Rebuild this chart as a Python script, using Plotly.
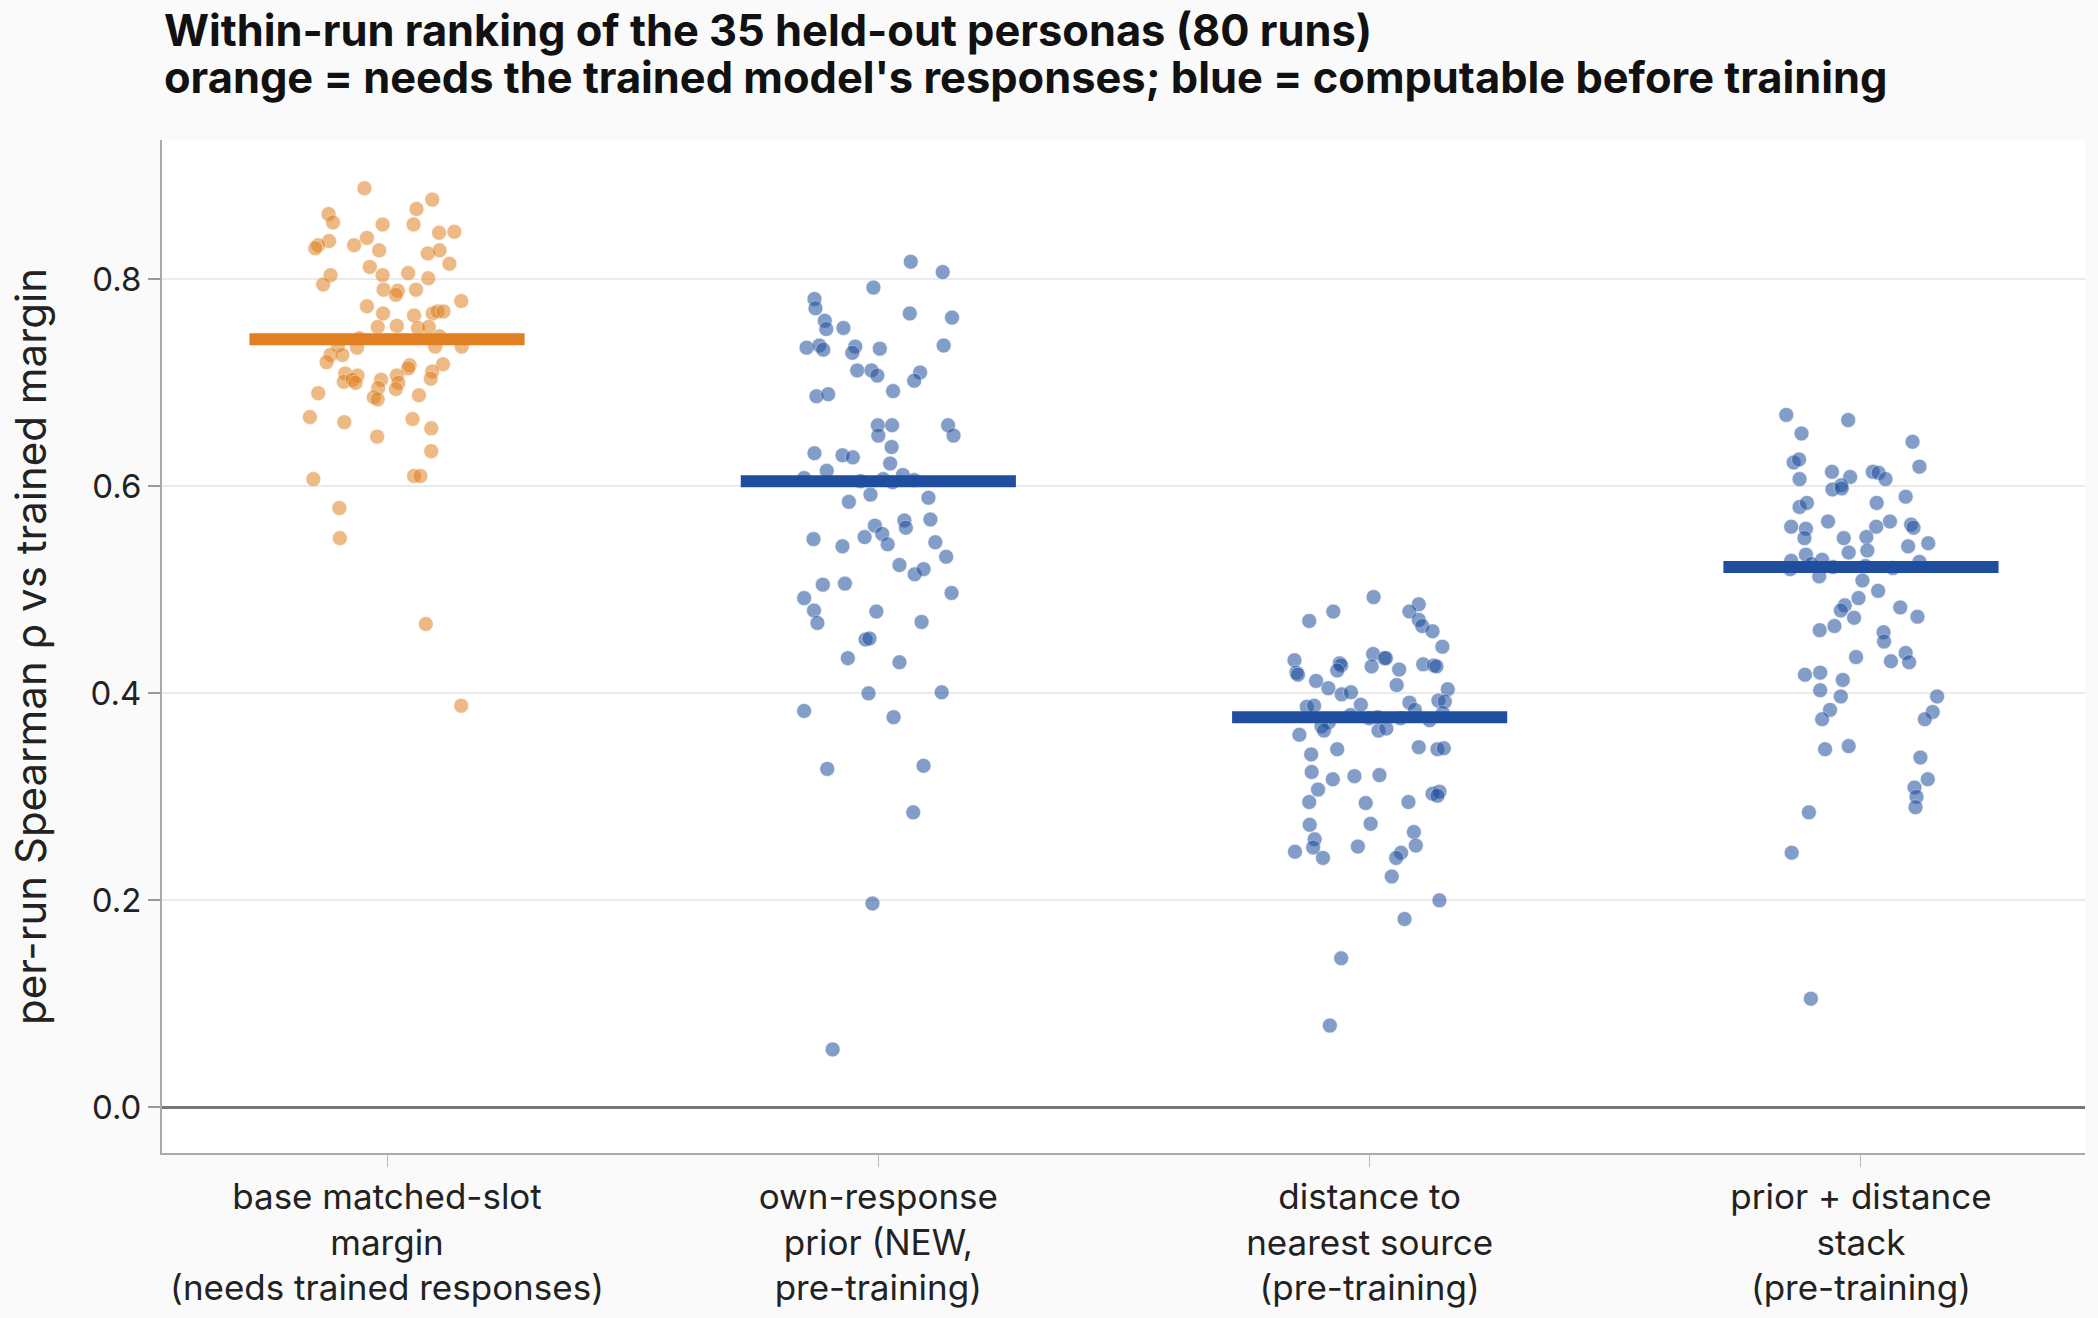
import plotly.graph_objects as go

categories = [
    "base matched-slot<br>margin<br>(needs trained responses)",
    "own-response<br>prior (NEW,<br>pre-training)",
    "distance to<br>nearest source<br>(pre-training)",
    "prior + distance<br>stack<br>(pre-training)",
]
title_lines = [
    "Within-run ranking of the 35 held-out personas (80 runs)",
    "orange = needs the trained model's responses; blue = computable before training",
]
y_label = "per-run Spearman ρ vs trained margin"
y_ticks = [0.0, 0.2, 0.4, 0.6, 0.8]

base_margin = [0.888, 0.877, 0.868, 0.863, 0.855, 0.853, 0.853, 0.846, 0.845, 0.840,
               0.837, 0.833, 0.833, 0.830, 0.828, 0.825, 0.828, 0.815, 0.812, 0.804,
               0.804, 0.806, 0.801, 0.795, 0.790, 0.789, 0.785, 0.790, 0.779, 0.774,
               0.767, 0.765, 0.767, 0.769, 0.769, 0.754, 0.755, 0.753, 0.754, 0.743,
               0.745, 0.734, 0.736, 0.735, 0.735, 0.727, 0.727, 0.720, 0.717, 0.714,
               0.718, 0.709, 0.707, 0.701, 0.703, 0.700, 0.703, 0.707, 0.700, 0.711,
               0.704, 0.695, 0.694, 0.686, 0.684, 0.690, 0.688, 0.667, 0.662, 0.665,
               0.656, 0.648, 0.634, 0.607, 0.610, 0.610, 0.579, 0.550, 0.467, 0.388]
base_jitter = [-0.046, 0.092, 0.060, -0.119, -0.110, -0.009, 0.054, 0.137, 0.106, -0.041,
               -0.118, -0.140, -0.067, -0.146, -0.016, 0.083, 0.107, 0.127, -0.035, -0.115,
               -0.009, 0.043, 0.084, -0.130, -0.007, 0.022, 0.018, 0.059, 0.151, -0.041,
               -0.008, 0.055, 0.093, 0.103, 0.115, -0.019, 0.020, 0.063, 0.085, -0.056,
               0.107, -0.061, -0.100, 0.098, 0.152, -0.115, -0.091, -0.123, 0.046, 0.043,
               0.114, -0.085, -0.060, -0.088, -0.070, -0.064, -0.012, 0.020, 0.023, 0.092,
               0.089, -0.018, 0.018, -0.027, -0.019, -0.140, 0.065, -0.157, -0.087, 0.052,
               0.090, -0.020, 0.090, -0.150, 0.055, 0.068, -0.097, -0.096, 0.079, 0.151]

own_prior = [0.817, 0.807, 0.792, 0.781, 0.772, 0.767, 0.763, 0.760, 0.752, 0.753,
             0.734, 0.736, 0.732, 0.735, 0.729, 0.733, 0.736, 0.712, 0.712, 0.707,
             0.710, 0.702, 0.692, 0.687, 0.689, 0.659, 0.659, 0.649, 0.659, 0.649,
             0.638, 0.632, 0.630, 0.628, 0.622, 0.615, 0.608, 0.605, 0.604, 0.611,
             0.606, 0.592, 0.585, 0.589, 0.567, 0.560, 0.568, 0.562, 0.554, 0.551,
             0.549, 0.542, 0.544, 0.546, 0.532, 0.524, 0.515, 0.520, 0.505, 0.506,
             0.497, 0.492, 0.480, 0.479, 0.468, 0.469, 0.452, 0.453, 0.434, 0.430,
             0.400, 0.401, 0.383, 0.377, 0.327, 0.330, 0.285, 0.197, 0.056, 0.607]
own_jitter = [0.066, 0.131, -0.010, -0.130, -0.128, 0.064, 0.150, -0.109, -0.106, -0.071,
              -0.146, -0.120, -0.112, -0.047, -0.053, 0.003, 0.133, -0.043, -0.014, -0.002,
              0.085, 0.073, 0.030, -0.126, -0.102, -0.001, 0.028, 0.000, 0.142, 0.153,
              0.027, -0.130, -0.073, -0.052, 0.024, -0.105, -0.151, -0.036, 0.029, 0.050,
              0.073, -0.016, -0.060, 0.102, 0.053, 0.056, 0.106, -0.007, 0.008, -0.028,
              -0.132, -0.073, 0.019, 0.116, 0.138, 0.043, 0.074, 0.092, -0.113, -0.068,
              0.149, -0.151, -0.131, -0.004, -0.124, 0.088, -0.026, -0.018, -0.062, 0.043,
              -0.020, 0.129, -0.151, 0.031, -0.104, 0.092, 0.071, -0.012, -0.093, 0.010]

distance = [0.493, 0.486, 0.479, 0.479, 0.470, 0.471, 0.465, 0.460, 0.445, 0.432,
            0.438, 0.434, 0.434, 0.429, 0.427, 0.420, 0.418, 0.426, 0.423, 0.428,
            0.427, 0.426, 0.422, 0.412, 0.405, 0.408, 0.404, 0.399, 0.401, 0.393,
            0.392, 0.387, 0.388, 0.389, 0.391, 0.384, 0.379, 0.376, 0.381, 0.374,
            0.372, 0.368, 0.364, 0.364, 0.366, 0.360, 0.346, 0.348, 0.346, 0.347,
            0.341, 0.324, 0.320, 0.321, 0.317, 0.307, 0.303, 0.305, 0.301, 0.295,
            0.294, 0.295, 0.274, 0.273, 0.266, 0.259, 0.251, 0.247, 0.241, 0.252,
            0.253, 0.246, 0.241, 0.223, 0.200, 0.182, 0.144, 0.079, 0.377, 0.376]
distance_jitter = [0.008, 0.100, -0.074, 0.081, -0.123, 0.100, 0.107, 0.128, 0.148, -0.153,
                   0.007, 0.030, 0.033, -0.061, -0.058, -0.149, -0.146, 0.004, 0.060, 0.109,
                   0.131, 0.136, -0.066, -0.109, -0.084, 0.055, 0.159, -0.057, -0.038, 0.140,
                   0.153, -0.128, -0.113, -0.018, 0.081, 0.092, -0.039, -0.001, 0.149, 0.122,
                   -0.083, -0.098, -0.093, 0.018, 0.034, -0.143, -0.066, 0.100, 0.138, 0.151,
                   -0.119, -0.118, -0.031, 0.020, -0.075, -0.105, 0.128, 0.142, 0.138, -0.123,
                   -0.008, 0.079, 0.002, -0.122, 0.090, -0.112, -0.115, -0.152, -0.095, -0.024,
                   0.094, 0.064, 0.054, 0.045, 0.142, 0.071, -0.058, -0.081, 0.016, 0.063]

stack = [0.669, 0.664, 0.651, 0.643, 0.623, 0.626, 0.619, 0.607, 0.614, 0.609,
         0.614, 0.613, 0.607, 0.597, 0.601, 0.598, 0.590, 0.580, 0.584, 0.584,
         0.561, 0.559, 0.566, 0.566, 0.563, 0.560, 0.561, 0.550, 0.550, 0.551,
         0.538, 0.536, 0.542, 0.545, 0.534, 0.529, 0.528, 0.520, 0.525, 0.513,
         0.523, 0.527, 0.509, 0.499, 0.492, 0.485, 0.480, 0.473, 0.483, 0.474,
         0.461, 0.465, 0.459, 0.450, 0.439, 0.430, 0.435, 0.431, 0.418, 0.420,
         0.413, 0.403, 0.397, 0.397, 0.384, 0.375, 0.382, 0.375, 0.346, 0.349,
         0.338, 0.317, 0.309, 0.300, 0.290, 0.285, 0.246, 0.105, 0.522, 0.521]
stack_jitter = [-0.152, -0.026, -0.121, 0.105, -0.137, -0.126, 0.119, -0.125, -0.059, -0.022,
                0.024, 0.036, 0.050, -0.058, -0.040, -0.039, 0.091, -0.125, -0.110, 0.032,
                -0.142, -0.112, -0.067, 0.059, 0.102, 0.107, 0.031, -0.115, -0.035, 0.011,
                0.013, -0.025, 0.096, 0.137, -0.112, -0.079, -0.142, -0.144, -0.101, -0.085,
                0.009, 0.119, 0.003, 0.035, -0.005, -0.033, -0.041, -0.014, 0.080, 0.115,
                -0.084, -0.054, 0.046, 0.047, 0.091, 0.098, -0.010, 0.061, -0.114, -0.083,
                -0.037, -0.083, -0.041, 0.155, -0.063, -0.079, 0.146, 0.130, -0.073, -0.025,
                0.121, 0.136, 0.109, 0.113, 0.111, -0.106, -0.141, -0.102, -0.057, 0.065]

means = [0.742, 0.605, 0.377, 0.522]

series = [base_margin, own_prior, distance, stack]
jitters = [base_jitter, own_jitter, distance_jitter, stack_jitter]
ORANGE = "#E08022"
BLUE = "#1F4E9E"
colors = [ORANGE, BLUE, BLUE, BLUE]
BAR_HALF = 0.28
FONT = "Inter"
XTICK_SIZE = 35
YTICK_SIZE = 33

fig = go.Figure()
for i, (vals, jit, col) in enumerate(zip(series, jitters, colors)):
    fig.add_trace(go.Scatter(
        x=[i + j for j in jit], y=vals, mode="markers",
        marker=dict(size=15, color=col, opacity=0.55,
                    line=dict(width=0.6, color="white")),
        showlegend=False, hoverinfo="y"))
for i, (m, col) in enumerate(zip(means, colors)):
    fig.add_trace(go.Scatter(
        x=[i - BAR_HALF, i + BAR_HALF], y=[m, m], mode="lines",
        line=dict(color=col, width=12), showlegend=False, hoverinfo="y"))

title_y = [1.1082, 1.0618]
for txt, yy in zip(title_lines, title_y):
    fig.add_annotation(
        text="<b>" + txt + "</b>", xref="paper", yref="paper",
        x=0, y=yy, xanchor="left", yanchor="middle", align="left",
        showarrow=False, font=dict(family=FONT, size=43.4, color="#111111"))

fig.update_layout(
    width=2098, height=1318,
    margin=dict(l=162, r=13, t=140, b=165, pad=0, autoexpand=False),
    paper_bgcolor="#fafafa", plot_bgcolor="white",
    font=dict(family=FONT, color="#222222", size=XTICK_SIZE),
    xaxis=dict(
        range=[-0.458, 3.456], tickmode="array", tickvals=[0, 1, 2, 3],
        ticktext=categories, showgrid=False, zeroline=False, automargin=False,
        showline=True, linecolor="#aaaaaa", linewidth=2,
        ticks="outside", ticklen=12, tickwidth=1.2, tickcolor="#bbbbbb",
        tickfont=dict(size=XTICK_SIZE, color="#222222")),
    yaxis=dict(
        range=[-0.0441, 0.9346], tickmode="array", automargin=False,
        tickvals=y_ticks, ticktext=["%.1f" % t for t in y_ticks],
        showgrid=True, gridcolor="#ebebeb", gridwidth=1.5,
        zeroline=True, zerolinecolor="#777777", zerolinewidth=2.5,
        showline=True, linecolor="#aaaaaa", linewidth=2,
        ticks="outside", ticklen=12, tickwidth=2, tickcolor="#999999",
        tickfont=dict(size=YTICK_SIZE, color="#222222"),
        title=dict(text=y_label, font=dict(size=42, color="#222222"), standoff=31)),
)

fig.write_html("out.html")
